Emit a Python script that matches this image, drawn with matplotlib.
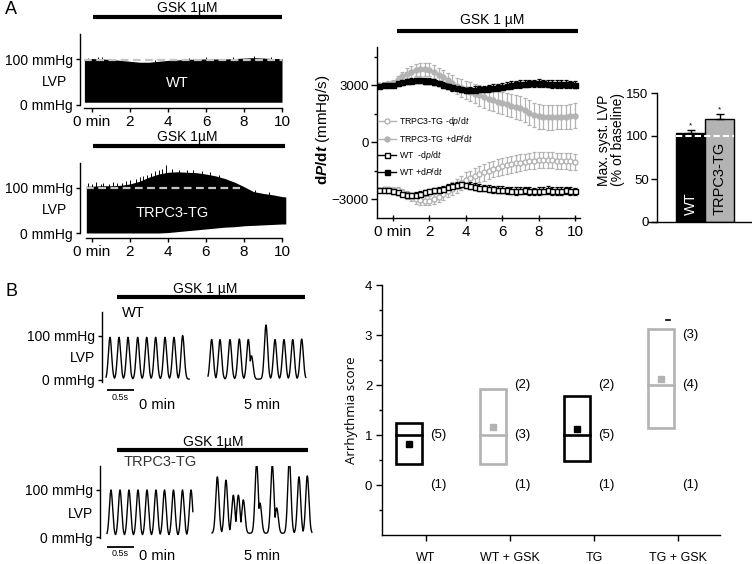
import numpy as np
import matplotlib
matplotlib.use('Agg')
import matplotlib.pyplot as plt
from matplotlib.lines import Line2D
from matplotlib.patches import Rectangle

# ---------------- data ----------------
# Panel A (left): LVP envelope over time (min), mmHg
wt_env_t = [-0.4, 0, 0.5, 1, 1.5, 2, 2.5, 3, 3.5, 4, 4.5, 5, 5.5, 6, 6.5, 7, 7.5, 8, 8.5, 9, 9.5, 10]
wt_env_top = [101, 101, 100, 99, 97, 95, 93, 93, 95, 97, 98, 99, 100, 100, 100, 100, 101, 102, 103, 102, 101, 101]
wt_env_bot = [6, 6, 6, 6, 6, 6, 6, 6, 6, 6, 6, 6, 6, 6, 6, 6, 6, 6, 6, 6, 6, 6]
wt_spike_t = [-0.2, 0.3, 0.5, 1.6, 3.3, 4.3, 5.1, 6.0, 7.4, 8.5, 9.4]
wt_spike_p = [103, 104, 105, 101, 98, 101, 103, 104, 105, 106, 104]
wt_baseline = 97

tg_env_t = [-0.3, 0, 0.5, 1, 1.5, 2, 2.5, 3, 3.5, 4, 4.5, 5, 5.5, 6, 6.5, 7, 7.5, 8, 8.5, 9, 9.5, 10, 10.2]
tg_env_top = [104, 104, 105, 105, 106, 109, 115, 124, 131, 135, 136, 135, 134, 131, 127, 121, 113, 103, 92, 88, 85, 81, 80]
tg_env_bot = [0, 0, 0, 0, 0, 0, 0, 0, 0, 1, 3, 5, 7, 9, 11, 13, 14, 16, 17, 18, 19, 20, 20]
tg_spike_t = [-0.2, 0.0, 0.2, 0.45, 0.6, 0.9, 1.1, 1.3, 1.6, 1.8, 2.0, 2.3, 2.5, 2.7, 2.9, 3.1,
              3.3, 3.5, 3.7, 3.9, 4.2, 4.6, 5.0, 5.3, 5.8, 6.2, 6.7, 8.6, 9.3]
tg_spike_p = [111, 110, 113, 109, 112, 110, 113, 111, 112, 115, 117, 119, 124, 127, 129, 133,
              137, 139, 143, 152, 142, 141, 139, 139, 137, 135, 130, 96, 91]
tg_baseline = 100

# Panel A (middle): dP/dt (mmHg/s) vs time (min)
times = [-0.75, -0.5, -0.25, 0.0, 0.25, 0.5, 0.75, 1.0, 1.25, 1.5, 1.75, 2.0, 2.25, 2.5, 2.75,
         3.0, 3.25, 3.5, 3.75, 4.0, 4.25, 4.5, 4.75, 5.0, 5.25, 5.5, 5.75, 6.0, 6.25, 6.5,
         6.75, 7.0, 7.25, 7.5, 7.75, 8.0, 8.25, 8.5, 8.75, 9.0, 9.25, 9.5, 9.75, 10.0]
wt_pos = [2950, 2980, 3000, 3020, 3080, 3150, 3200, 3230, 3250, 3240, 3220, 3200,
          3150, 3080, 3000, 2930, 2870, 2820, 2780, 2760, 2750, 2760, 2780, 2800,
          2820, 2850, 2880, 2920, 2960, 3000, 3030, 3050, 3070, 3080, 3080, 3090,
          3080, 3070, 3060, 3050, 3060, 3040, 3030, 3020]
wt_pos_err = [100, 110, 110, 120, 120, 130, 130, 140, 140, 140, 150, 150,
              150, 150, 150, 150, 160, 160, 160, 160, 170, 170, 170, 170,
              180, 180, 180, 180, 180, 190, 190, 190, 190, 200, 200, 200,
              200, 200, 210, 210, 210, 210, 200, 200]
wt_neg = [-2500, -2520, -2550, -2600, -2650, -2720, -2780, -2800, -2780, -2720, -2650, -2600,
          -2550, -2500, -2450, -2380, -2300, -2250, -2230, -2250, -2300, -2350, -2400, -2430,
          -2450, -2480, -2500, -2520, -2550, -2560, -2580, -2560, -2550, -2580, -2600, -2580,
          -2560, -2540, -2580, -2600, -2560, -2550, -2580, -2600]
wt_neg_err = [100, 110, 110, 120, 130, 130, 140, 140, 150, 150, 150, 150,
              150, 150, 150, 150, 160, 160, 160, 160, 170, 170, 170, 170,
              180, 180, 180, 180, 180, 190, 190, 190, 200, 200, 200, 200,
              200, 200, 210, 210, 210, 200, 200, 200]
tg_pos = [3000, 3020, 3050, 3100, 3250, 3450, 3600, 3700, 3780, 3820, 3830, 3800,
          3700, 3550, 3400, 3250, 3100, 2950, 2850, 2750, 2650, 2550, 2450, 2350,
          2280, 2200, 2120, 2050, 1980, 1900, 1830, 1780, 1700, 1550, 1420, 1350,
          1320, 1300, 1300, 1310, 1300, 1320, 1350, 1380]
tg_pos_err = [100, 120, 150, 180, 220, 260, 300, 320, 330, 340, 340, 340,
              350, 360, 380, 400, 420, 440, 460, 480, 500, 520, 540, 560,
              570, 580, 590, 600, 600, 610, 620, 630, 640, 650, 650, 650,
              650, 650, 650, 640, 640, 640, 650, 650]
tg_neg = [-2500, -2480, -2480, -2500, -2550, -2650, -2780, -2900, -3000, -3050, -3080, -3080,
          -3000, -2900, -2750, -2600, -2450, -2300, -2150, -2000, -1900, -1800, -1700, -1600,
          -1500, -1420, -1350, -1280, -1220, -1170, -1120, -1080, -1050, -1000, -980, -960,
          -950, -960, -970, -980, -990, -1000, -1020, -1050]
tg_neg_err = [100, 110, 120, 140, 160, 180, 200, 220, 240, 250, 260, 260,
              270, 280, 300, 320, 340, 360, 380, 400, 400, 410, 420, 430,
              440, 440, 450, 450, 450, 450, 450, 440, 440, 440, 440, 430,
              430, 430, 420, 420, 420, 420, 430, 440]

# Panel A (right): max systolic LVP (% of baseline)
bar_groups = ['WT', 'TRPC3-TG']
bar_vals = [103.5, 120]
bar_err = [3, 5.5]

# Panel B (left): beat times (s) and peak pressures (mmHg)
wt0_beats = [0.074, 0.241, 0.407, 0.587, 0.754, 0.920, 1.093, 1.259, 1.420]
wt0_peaks = [97, 97, 97, 97, 97, 97, 97, 97, 101]
wt5_beats = [0.068, 0.222, 0.407, 0.580, 0.746, 0.805, 1.074, 1.241, 1.407, 1.569, 1.735]
wt5_peaks = [92, 92, 92, 93, 92, 55, 125, 92, 92, 92, 93]
tg0_beats = [0.074, 0.241, 0.407, 0.574, 0.741, 0.907, 1.065, 1.231, 1.398, 1.556]
tg0_peaks = [100, 100, 100, 100, 100, 100, 100, 100, 100, 100]
tg5_beats = [0.099, 0.259, 0.395, 0.488, 0.580, 0.827, 0.889, 1.117, 1.198, 1.432, 1.611, 1.765]
tg5_peaks = [128, 121, 89, 89, 79, 157, 72, 153, 62, 166, 128, 130]

# Panel B (right): arrhythmia score
arr_cats = ['WT', 'WT + GSK', 'TG', 'TG + GSK']
arr_low = [0.43, 0.42, 0.48, 1.14]
arr_high = [1.25, 1.93, 1.78, 3.12]
arr_median = [1.0, 1.0, 1.0, 2.0]
arr_mean = [0.83, 1.17, 1.12, 2.12]
arr_counts = [[(1, 5), (0, 1)], [(2, 2), (1, 3), (0, 1)], [(2, 2), (1, 5), (0, 1)], [(3, 3), (2, 4), (0, 1)]]

# ---------------- style / layout ----------------
W, H = 752, 564
plt.rcParams['font.family'] = ['Liberation Sans', 'DejaVu Sans']
plt.rcParams['mathtext.fontset'] = 'custom'
plt.rcParams['mathtext.rm'] = 'Liberation Sans'
plt.rcParams['mathtext.bf'] = 'Liberation Sans:bold'
plt.rcParams['mathtext.it'] = 'Liberation Sans:italic:bold'
plt.rcParams['mathtext.sf'] = 'Liberation Sans:italic'
plt.rcParams['axes.linewidth'] = 1.0
GRAY = '#b3b3b3'

fig = plt.figure(figsize=(W / 100, H / 100), dpi=100)


def axpx(x0, y0, x1, y1):
    return fig.add_axes([x0 / W, 1 - y1 / H, (x1 - x0) / W, (y1 - y0) / H])


def lim(p0, p1, pa, va, pb, vb):
    s = (vb - va) / (pb - pa)
    return (va + (p0 - pa) * s, va + (p1 - pa) * s)


def ftext(x, y, s, **kw):
    kw.setdefault('ha', 'center')
    kw.setdefault('va', 'center')
    return fig.text(x / W, 1 - y / H, s, **kw)


def fline(x0, x1, y, lw=3.0, color='black'):
    fig.add_artist(Line2D([x0 / W, x1 / W], [1 - y / H, 1 - y / H], color=color, lw=lw,
                          solid_capstyle='butt'))


def clean(ax, left=True, bottom=True):
    ax.spines['top'].set_visible(False)
    ax.spines['right'].set_visible(False)
    ax.spines['left'].set_visible(left)
    ax.spines['bottom'].set_visible(bottom)
    ax.patch.set_alpha(0)


ftext(11, 10, 'A', fontsize=13)
ftext(12, 292, 'B', fontsize=13)


# ---- Panel A: LVP overviews ----
def overview(box, yz, y100, env_t, top, bot, spk_t, spk_p, base, dash_end, label, lab_xy, gsk_y, bar_end):
    x0, y0, x1, y1 = box
    ax = axpx(*box)
    ax.set_xlim(lim(x0, x1, 92, 0, 282, 10))
    ax.set_ylim(lim(y1, y0, yz, 0, y100, 100))
    clean(ax)
    ax.fill_between(env_t, bot, top, color='black', lw=0)
    sb = np.interp(spk_t, env_t, top) - 3
    ax.vlines(spk_t, sb, spk_p, color='black', lw=0.7)
    ax.plot([env_t[0], dash_end], [base, base], color='#c4c4c4', lw=1.6, ls=(0, (3.5, 2)))
    ax.text(lab_xy[0], lab_xy[1], label, color='white', fontsize=10.5, ha='center', va='center')
    ax.spines['left'].set_bounds(0, ax.get_ylim()[1])
    ax.spines['bottom'].set_bounds(env_t[0], 10)
    ax.set_yticks([0, 100])
    ax.set_yticklabels(['0 mmHg', '100 mmHg'], fontsize=10)
    ax.set_xticks([0, 2, 4, 6, 8, 10])
    ax.set_xticklabels(['0 min', '2', '4', '6', '8', '10'], fontsize=11)
    ax.tick_params(axis='both', length=3, width=1, direction='out', pad=2)
    ax.text(-1.3, 50, 'LVP', fontsize=10, ha='right', va='center')
    ftext(187, gsk_y, 'GSK 1µM', fontsize=10)
    fline(93, bar_end, gsk_y + 9)
    return ax


overview((80, 34, 286, 108), 105, 59, wt_env_t, wt_env_top, wt_env_bot, wt_spike_t, wt_spike_p,
         wt_baseline, 10, 'WT', (4.5, 48), 8, 282)
overview((80, 163, 288, 238), 233, 188, tg_env_t, tg_env_top, tg_env_bot, tg_spike_t, tg_spike_p,
         tg_baseline, 7.8, 'TRPC3-TG', (4.2, 45), 137, 285)

# ---- Panel A: dP/dt ----
axd = axpx(377, 47, 580, 218)
axd.set_xlim(lim(377, 580, 393, 0, 575, 10))
axd.set_ylim(lim(218, 47, 142, 0, 85, 3000))
clean(axd)
ekw = dict(elinewidth=0.9, capsize=1.6, capthick=0.9, lw=1.3, ms=3.6)
axd.errorbar(times, tg_pos, yerr=tg_pos_err, color=GRAY, ecolor=GRAY, marker='o', mfc=GRAY, mec=GRAY, **ekw)
axd.errorbar(times, tg_neg, yerr=tg_neg_err, color=GRAY, ecolor=GRAY, marker='o', mfc='white', mec=GRAY, **ekw)
axd.errorbar(times, wt_pos, yerr=wt_pos_err, color='black', ecolor='black', marker='s', mfc='black', mec='black', **ekw)
axd.errorbar(times, wt_neg, yerr=wt_neg_err, color='black', ecolor='black', marker='s', mfc='white', mec='black', **ekw)
axd.set_yticks([-3000, 0, 3000])
axd.set_yticklabels(['\u22123000', '0', '3000'], fontsize=9.5)
axd.set_yticks([-1500, 1500, 4500], minor=True)
axd.set_xticks([0, 2, 4, 6, 8, 10])
axd.set_xticklabels(['0 min', '2', '4', '6', '8', '10'], fontsize=11)
axd.tick_params(axis='y', which='major', length=4, width=1, direction='out', pad=2)
axd.tick_params(axis='y', which='minor', length=2, width=1, direction='out')
axd.tick_params(axis='x', length=4, width=1, direction='inout', pad=3)
handles = [
    Line2D([], [], color=GRAY, marker='o', mfc='white', mec=GRAY, ms=3.6, lw=1),
    Line2D([], [], color=GRAY, marker='o', mfc=GRAY, mec=GRAY, ms=3.6, lw=1),
    Line2D([], [], color='black', marker='s', mfc='white', mec='black', ms=3.6, lw=1),
    Line2D([], [], color='black', marker='s', mfc='black', mec='black', ms=3.6, lw=1),
]
labels = [r'TRPC3-TG -d$\mathsf{p}$/d$\mathsf{t}$', r'TRPC3-TG +d$\mathsf{P}$/d$\mathsf{t}$',
          r'WT  -d$\mathsf{p}$/d$\mathsf{t}$', r'WT +d$\mathsf{P}$/d$\mathsf{t}$']
axd.legend(handles, labels, loc='upper left', bbox_to_anchor=((378 - 377) / 203, (218 - 115) / 171),
           frameon=False, fontsize=6.3, handlelength=2.0, handletextpad=0.4, labelspacing=0.55,
           borderaxespad=0, borderpad=0)
ftext(323, 130, r'$\mathbf{d}\mathit{P}\mathbf{/d}\mathit{t}$ (mmHg/s)', fontsize=11, rotation=90)
ftext(492, 20, 'GSK 1 µM', fontsize=10)
fline(397, 578, 31)

# ---- Panel A: bar chart ----
axb = axpx(657, 93, 752, 222)
axb.set_xlim(-1.155, 2.12)
axb.set_ylim(0, 150)
clean(axb)
axb.bar([0, 1], bar_vals, width=1, color=['black', GRAY], edgecolor='black', lw=1)
axb.errorbar([0, 1], bar_vals, yerr=[[0, 0], bar_err], fmt='none', ecolor='black', capsize=3, elinewidth=1)
axb.plot([-0.5, 1.5], [100, 100], color='white', lw=1.5, ls=(0, (3, 1.5)))
for i, (v, e) in enumerate(zip(bar_vals, bar_err)):
    axb.text(i, v + e + 1, '*', fontsize=6, ha='center', va='bottom')
axb.text(0, 8, bar_groups[0], color='white', fontsize=10.5, rotation=90, ha='center', va='bottom')
axb.text(1, 8, bar_groups[1], color='black', fontsize=10.5, rotation=90, ha='center', va='bottom')
axb.set_yticks([0, 50, 100, 150])
axb.set_yticklabels(['0', '50', '100', '150'], fontsize=9.5)
axb.set_xticks([])
axb.tick_params(axis='y', length=4, width=1, direction='out', pad=2)
axb.spines['bottom'].set_bounds(-1.155 - 0.31, 2.12)
ftext(611, 140, 'Max. syst. LVP\n(% of baseline)', fontsize=10, rotation=90, linespacing=1.0)


# ---- Panel B: LVP traces ----
def trace(beats, peaks, base, dur, sigma=0.03):
    t = np.linspace(0, dur, 800)
    p = np.full_like(t, base, dtype=float)
    for tb, pk in zip(beats, peaks):
        p = np.maximum(p, base + (pk - base) * np.exp(-0.5 * ((t - tb) / sigma) ** 2))
    return t, p


def bpanel(box, yz, y100, seg0, seg5, gsk_y, gsk_x, gsk_txt, bar_x, label, lab_xy, lab_color, sb_y, lab_y):
    x0, y0, x1, y1 = box
    ax = axpx(*box)
    ax.set_xlim(lim(x0, x1, 107, 0, 161, 1.0))
    ax.set_ylim(lim(y1, y0, yz, 0, y100, 100))
    clean(ax, bottom=False)
    for (beats, peaks, base, dur, start_px) in (seg0, seg5):
        off = (start_px - 107) / 54.0
        t, p = trace(beats, peaks, base, dur)
        ax.plot(t + off, p, color='black', lw=1.0)
    ax.spines['left'].set_bounds(ax.get_ylim()[0] + 1, ax.get_ylim()[1])
    ax.set_yticks([0, 100])
    ax.set_yticklabels(['0 mmHg', '100 mmHg'], fontsize=10)
    ax.set_xticks([])
    ax.tick_params(axis='y', length=3, width=1, direction='out', pad=2)
    ax.text(ax.get_xlim()[0] - 0.12, 50, 'LVP', fontsize=10, ha='right', va='center')
    ftext(lab_xy[0], lab_xy[1], label, fontsize=10.5, color=lab_color)
    ftext(gsk_x, gsk_y, gsk_txt, fontsize=10)
    fline(bar_x[0], bar_x[1], gsk_y + 8)
    fline(107, 134, sb_y, lw=1.3)
    ftext(120, sb_y + 7, '0.5s', fontsize=6.5)
    ftext(157, lab_y, '0 min', fontsize=10.5)
    ftext(262, lab_y, '5 min', fontsize=10.5)


bpanel((102, 312, 310, 382), 380, 336,
       (wt0_beats, wt0_peaks, 2, 1.54, 106), (wt5_beats, wt5_peaks, 2, 1.81, 208),
       289, 205, 'GSK 1 µM', (117, 305), 'WT', (133, 313), 'black', 390, 405)
bpanel((100, 466, 315, 538), 537, 490,
       (tg0_beats, tg0_peaks, 3, 1.59, 107), (tg5_beats, tg5_peaks, 8, 1.85, 212),
       442, 213, 'GSK 1µM', (117, 308), 'TRPC3-TG', (160, 462), '#333333', 547, 556)

# ---- Panel B: arrhythmia score ----
axr = axpx(382, 285, 720, 535)
axr.set_xlim(0.476, 4.5)
axr.set_ylim(-1, 4)
clean(axr)
cols = ['black', GRAY, 'black', GRAY]
bw = 0.31
for i in range(4):
    xc = i + 1 - 0.2
    axr.add_patch(Rectangle((xc - bw / 2, arr_low[i]), bw, arr_high[i] - arr_low[i], fill=False,
                            ec=cols[i], lw=1.9))
    axr.plot([xc - bw / 2, xc + bw / 2], [arr_median[i], arr_median[i]], color=cols[i], lw=1.9)
    axr.plot([xc], [arr_mean[i]], marker='s', color=cols[i], ms=4, lw=0)
    for score, n in arr_counts[i]:
        axr.text(i + 1 + 0.05, score, f'({n})', fontsize=9.5, ha='left', va='center')
axr.plot([3.86, 3.9], [3.3, 3.3], color='black', lw=1.2)
axr.set_yticks([0, 1, 2, 3, 4])
axr.set_yticklabels(['0', '1', '2', '3', '4'], fontsize=9.5)
axr.set_yticks([-0.5, 0.5, 1.5, 2.5, 3.5], minor=True)
axr.set_xticks([1, 2, 3, 4])
axr.set_xticklabels(arr_cats, fontsize=9)
axr.tick_params(axis='both', which='major', length=4, width=1, direction='out', pad=3)
axr.tick_params(axis='y', which='minor', length=2, width=1, direction='out')
axr.tick_params(axis='x', pad=8)
ftext(352, 410, 'Arrhythmia score', fontsize=9.5, rotation=90, family=['Open Sans', 'DejaVu Sans'])

fig.savefig('out.png', dpi=100)
